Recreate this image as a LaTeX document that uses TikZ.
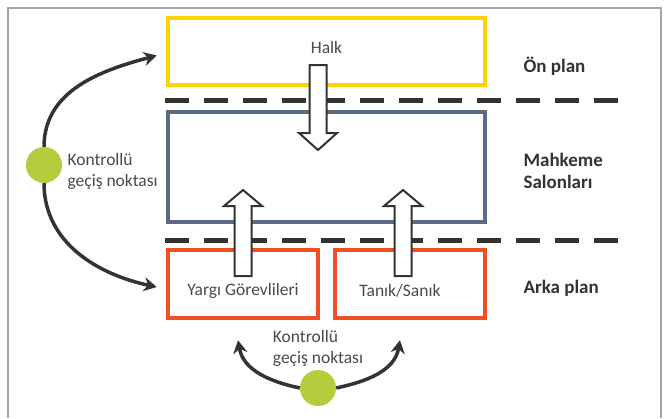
\documentclass[tikz,border=0pt]{standalone}
\usepackage{fontspec}
\setmainfont{Carlito}
\usetikzlibrary{arrows.meta}
\definecolor{sari}{HTML}{FFD200}
\definecolor{lacivert}{HTML}{5A6B86}
\definecolor{turuncu}{HTML}{F04E23}
\definecolor{fistik}{HTML}{B7CC3C}
\definecolor{koyu}{HTML}{333333}
\definecolor{yazi}{HTML}{4A4A4A}
\tikzset{
  kutu/.style={draw,line width=4.5pt,minimum width=317pt},
  kesik/.style={koyu,line width=5pt,dash pattern=on 24pt off 15pt},
  gecis/.style={circle,fill=fistik,minimum size=36pt,inner sep=0pt},
  donus/.style={koyu,line width=3.5pt,-{Stealth[length=13pt,width=14pt]}},
  etiket/.style={text=yazi,font=\fontsize{17.5}{21}\selectfont},
  plan/.style={text=koyu,font=\fontsize{19}{22}\selectfont\bfseries,align=left,anchor=west}
}
% hollow block arrow: x, tail, head base, tip
\newcommand{\okblok}[4]{%
  \draw[koyu,fill=white,line width=2pt,line join=miter]
    (#1-8.5,#2) -- (#1-8.5,#3) -- (#1-19,#3) -- (#1,#4)
    -- (#1+19,#3) -- (#1+8.5,#3) -- (#1+8.5,#2) -- cycle;}
\begin{document}
\begin{tikzpicture}[x=1pt,y=1pt]
  \useasboundingbox (0,0) rectangle (667,-418);
  \fill[white] (0,0) rectangle (667,-418);
  \draw[gray!70,line width=1.3pt] (8,-418)--(8,-8)--(661,-8)--(661,-418);

  % the three layers
  \node[kutu,draw=sari,minimum height=67pt] (halk) at (326.5,-51.5) {};
  \node[kutu,draw=lacivert,minimum height=110pt] (salon) at (326.5,-167) {};
  \node[kutu,draw=turuncu,minimum width=150pt,minimum height=68pt] (yargi) at (243,-284) {};
  \node[kutu,draw=turuncu,minimum width=150pt,minimum height=68pt] (tanik) at (410,-284) {};

  \draw[kesik] (165,-100) -- (622,-100);
  \draw[kesik] (165,-240) -- (622,-240);

  \okblok{318}{-65}{-133}{-150}
  \okblok{243}{-276}{-206}{-190}
  \okblok{403}{-276}{-206}{-190}

  \node[etiket] at ([yshift=4pt]halk) {Halk};
  \node[etiket] at ([yshift=-7pt]yargi) {Yargı Görevlileri};
  \node[etiket] at ([xshift=-10pt,yshift=-7pt]tanik) {Tanık/Sanık};

  \node[plan] (on) at (520,-66) {Ön plan};
  \node[plan] (mahkeme) at (520,-171) {Mahkeme\\Salonları};
  \node[plan] (arka) at (520,-288) {Arka plan};

  % controlled passages
  \node[gecis] (solkapi) at (44,-165) {};
  \node[etiket,align=left,anchor=west] (solyazi) at (64,-171) {Kontrollü\\geçiş noktası};
  \draw[donus] (solkapi.north) to[out=90,in=195] ([xshift=-9pt,yshift=-4pt]halk.west);
  \draw[donus] (solkapi.south) to[out=-90,in=168] ([xshift=-9pt,yshift=-3pt]yargi.west);

  \node[gecis] (altkapi) at (318,-388) {};
  \node[etiket,align=left] (altyazi) at (318,-348) {Kontrollü\\geçiş noktası};
  \draw[donus] (altkapi.west) to[out=168,in=-80] ([xshift=-5pt,yshift=-20pt]yargi.south);
  \draw[donus] (altkapi.east) to[out=12,in=-100] ([xshift=-10pt,yshift=-20pt]tanik.south);
\end{tikzpicture}
\end{document}
